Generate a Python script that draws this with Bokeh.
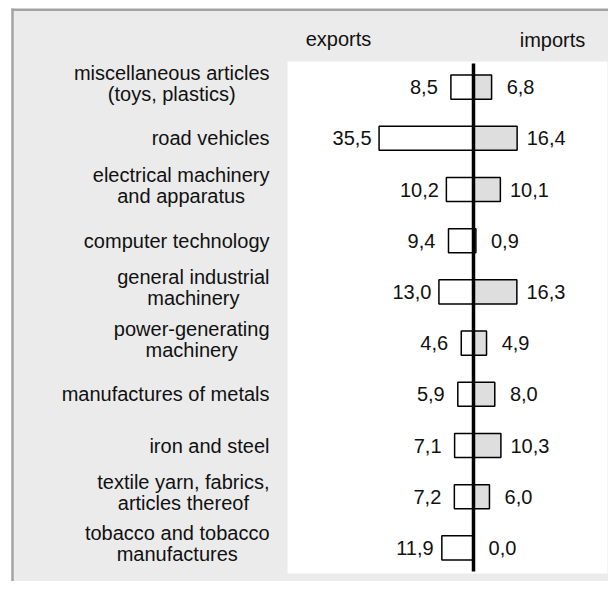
from bokeh.plotting import figure
from bokeh.models import Range1d, ColumnDataSource
from bokeh.embed import file_html
from bokeh.resources import INLINE
from bokeh.core.properties import value

# ---------------- data ----------------
categories = [
    "miscellaneous articles\n(toys, plastics)",
    "road vehicles",
    "electrical machinery\nand apparatus",
    "computer technology",
    "general industrial\nmachinery",
    "power-generating\nmachinery",
    "manufactures of metals",
    "iron and steel",
    "textile yarn, fabrics,\narticles thereof",
    "tobacco and tobacco\nmanufactures",
]
exports = [8.5, 35.5, 10.2, 9.4, 13.0, 4.6, 5.9, 7.1, 7.2, 11.9]
imports = [6.8, 16.4, 10.1, 0.9, 16.3, 4.9, 8.0, 10.3, 6.0, 0.0]
headers = ["exports", "imports"]

# ---------------- geometry helpers (picture pixels -> data) ----------------
W, H = 608, 581
K = 2.66          # px per unit on x
X0 = 473          # picture x of zero
R = 51.2          # px per category row
Y0 = 86.6         # picture y of first row centre


def px2x(px):
    return (px - X0) / K


def py2y(py):
    return (py - Y0) / R


FONT = "Liberation Sans"
FS = 20

# Arial / Liberation Sans advance widths (em/1000)
CW = {c: 556 for c in "abdeghnopqu"}
CW.update({"c": 500, "k": 500, "s": 500, "v": 500, "x": 500, "y": 500, "z": 500,
           "f": 278, "t": 278, "i": 222, "j": 222, "l": 222, "m": 833, "r": 333,
           "w": 722, " ": 278, ",": 278, ".": 278, "(": 333, ")": 333, "-": 333})


def text_w(s):
    return sum(CW.get(ch, 556) for ch in s) / 1000.0 * FS


p = figure(width=W, height=H, output_backend="svg", toolbar_location=None,
           x_range=Range1d(px2x(0), px2x(W)),
           y_range=Range1d(py2y(H), py2y(0)),
           min_border=0, outline_line_color=None,
           background_fill_color="white", border_fill_color="white")
p.axis.visible = False
p.grid.visible = False

# gray panel with darker top/left border
p.quad(left=px2x(12), right=px2x(700), top=py2y(9), bottom=py2y(700),
       fill_color="#ebebeb", line_color=None)
p.segment(x0=[px2x(11), px2x(12)], y0=[py2y(9.2), py2y(8)],
          x1=[px2x(700), px2x(12)], y1=[py2y(9.2), py2y(700)],
          line_color="#a3a3a3", line_width=2.5)

# white plot area
p.quad(left=px2x(287), right=px2x(607), top=-0.5, bottom=9.5,
       fill_color="white", line_color=None)

idx = list(range(len(categories)))
src = ColumnDataSource(dict(
    y=idx,
    exp_left=[-v for v in exports],
    zero=[0] * len(idx),
    imp_right=imports,
    exp_lab=[f"{v:.1f}".replace(".", ",") for v in exports],
    imp_lab=[f"{v:.1f}".replace(".", ",") for v in imports],
))

p.hbar(y="y", left="exp_left", right="zero", height=0.47, source=src,
       fill_color="white", line_color="black", line_width=1.5)
p.hbar(y="y", left="zero", right="imp_right", height=0.47, source=src,
       fill_color="#dedede", line_color="black", line_width=1.5)

# central axis line
p.segment(x0=[0], y0=[py2y(63)], x1=[0], y1=[py2y(571)],
          line_color="black", line_width=3.5)

# value labels
p.text(x="exp_left", y="y", text="exp_lab", source=src, x_offset=-27,
       text_align="center", text_baseline="middle",
       text_font=value(FONT), text_font_size=f"{FS}px", text_color="#111111")
p.text(x="imp_right", y="y", text="imp_lab", source=src, x_offset=29,
       text_align="center", text_baseline="middle",
       text_font=value(FONT), text_font_size=f"{FS}px", text_color="#111111")

# category labels: centred lines, block right edge at picture x 269
cx, cy, ct, cyo = [], [], [], []
for i, c in enumerate(categories):
    lines = c.split("\n")
    wmax = max(text_w(ln) for ln in lines)
    cx.append(px2x(269 - wmax / 2))
    cy.append(i)
    ct.append(c)
    cyo.append(-4 if len(lines) > 1 else 0)
p.text(x=cx, y=cy, text=ct, y_offset=cyo, text_align="center",
       text_baseline="middle", text_line_height=0.95,
       text_font=value(FONT), text_font_size=f"{FS}px", text_color="#111111")

# column headers
p.text(x=[px2x(338), px2x(552)], y=[py2y(38), py2y(39)], text=headers,
       text_align="center", text_baseline="middle",
       text_font=value(FONT), text_font_size=f"{FS}px", text_color="#111111")

open("out.html", "w").write(file_html(p, INLINE))
